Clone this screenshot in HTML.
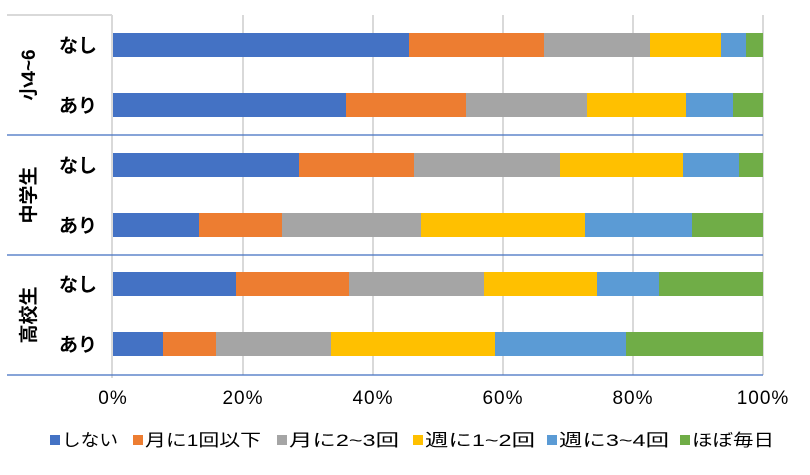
<!DOCTYPE html>
<html><head><meta charset="utf-8"><style>
body{margin:0;background:#fff}
svg text{font-family:"Liberation Sans","Noto Sans CJK JP",sans-serif;fill:#000}
</style></head><body>
<svg width="810" height="470" xmlns="http://www.w3.org/2000/svg">
<g stroke="#d9d9d9" stroke-width="2">
<line x1="243" y1="15" x2="243" y2="375"/><line x1="373" y1="15" x2="373" y2="375"/>
<line x1="503" y1="15" x2="503" y2="375"/><line x1="633" y1="15" x2="633" y2="375"/>
<line x1="763" y1="15" x2="763" y2="375"/>
<line x1="112" y1="15" x2="112" y2="378"/>
<line x1="7" y1="15" x2="112" y2="15"/>
</g>
<g stroke="#4472c4" stroke-width="1.5" opacity="0.85">
<line x1="7" y1="135" x2="763" y2="135"/><line x1="7" y1="255" x2="763" y2="255"/><line x1="7" y1="375" x2="763" y2="375"/>
</g>
<g>
<rect x="113" y="33" width="296" height="24" fill="#4472c4"/><rect x="409" y="33" width="135" height="24" fill="#ed7d31"/><rect x="544" y="33" width="106" height="24" fill="#a5a5a5"/><rect x="650" y="33" width="71" height="24" fill="#ffc000"/><rect x="721" y="33" width="25" height="24" fill="#5b9bd5"/><rect x="746" y="33" width="17" height="24" fill="#70ad47"/>
<rect x="113" y="93" width="233" height="24" fill="#4472c4"/><rect x="346" y="93" width="120" height="24" fill="#ed7d31"/><rect x="466" y="93" width="121" height="24" fill="#a5a5a5"/><rect x="587" y="93" width="99" height="24" fill="#ffc000"/><rect x="686" y="93" width="47" height="24" fill="#5b9bd5"/><rect x="733" y="93" width="30" height="24" fill="#70ad47"/>
<rect x="113" y="153" width="186" height="24" fill="#4472c4"/><rect x="299" y="153" width="115" height="24" fill="#ed7d31"/><rect x="414" y="153" width="146" height="24" fill="#a5a5a5"/><rect x="560" y="153" width="123" height="24" fill="#ffc000"/><rect x="683" y="153" width="56" height="24" fill="#5b9bd5"/><rect x="739" y="153" width="24" height="24" fill="#70ad47"/>
<rect x="113" y="213" width="86" height="24" fill="#4472c4"/><rect x="199" y="213" width="83" height="24" fill="#ed7d31"/><rect x="282" y="213" width="139" height="24" fill="#a5a5a5"/><rect x="421" y="213" width="164" height="24" fill="#ffc000"/><rect x="585" y="213" width="107" height="24" fill="#5b9bd5"/><rect x="692" y="213" width="71" height="24" fill="#70ad47"/>
<rect x="113" y="272" width="123" height="24" fill="#4472c4"/><rect x="236" y="272" width="113" height="24" fill="#ed7d31"/><rect x="349" y="272" width="135" height="24" fill="#a5a5a5"/><rect x="484" y="272" width="113" height="24" fill="#ffc000"/><rect x="597" y="272" width="62" height="24" fill="#5b9bd5"/><rect x="659" y="272" width="104" height="24" fill="#70ad47"/>
<rect x="113" y="332" width="50" height="24" fill="#4472c4"/><rect x="163" y="332" width="53" height="24" fill="#ed7d31"/><rect x="216" y="332" width="115" height="24" fill="#a5a5a5"/><rect x="331" y="332" width="164" height="24" fill="#ffc000"/><rect x="495" y="332" width="131" height="24" fill="#5b9bd5"/><rect x="626" y="332" width="137" height="24" fill="#70ad47"/>
</g>
<g font-size="19" font-weight="bold">
<text x="78" y="52" text-anchor="middle">なし</text><text x="78" y="112" text-anchor="middle">あり</text>
<text x="78" y="172" text-anchor="middle">なし</text><text x="78" y="232" text-anchor="middle">あり</text>
<text x="78" y="291" text-anchor="middle">なし</text><text x="78" y="351" text-anchor="middle">あり</text>
<text transform="translate(35,75) rotate(-90)" text-anchor="middle">小4~6</text>
<text transform="translate(35,195) rotate(-90)" text-anchor="middle">中学生</text>
<text transform="translate(35,315) rotate(-90)" text-anchor="middle">高校生</text>
</g>
<g font-size="19" text-anchor="middle" letter-spacing="1">
<text x="113" y="404">0%</text><text x="243" y="404">20%</text><text x="373" y="404">40%</text>
<text x="503" y="404">60%</text><text x="633" y="404">80%</text><text x="763" y="404">100%</text>
</g>
<g font-size="17">
<rect x="50" y="435" width="10" height="10" fill="#4472c4"/><text x="62" y="446" textLength="56" lengthAdjust="spacingAndGlyphs">しない</text>
<rect x="133" y="435" width="10" height="10" fill="#ed7d31"/><text x="145" y="446" textLength="116" lengthAdjust="spacingAndGlyphs">月に1回以下</text>
<rect x="277" y="435" width="10" height="10" fill="#a5a5a5"/><text x="289" y="446" textLength="110" lengthAdjust="spacingAndGlyphs">月に2~3回</text>
<rect x="413" y="435" width="10" height="10" fill="#ffc000"/><text x="425" y="446" textLength="110" lengthAdjust="spacingAndGlyphs">週に1~2回</text>
<rect x="547" y="435" width="10" height="10" fill="#5b9bd5"/><text x="559" y="446" textLength="110" lengthAdjust="spacingAndGlyphs">週に3~4回</text>
<rect x="680" y="435" width="10" height="10" fill="#70ad47"/><text x="692" y="446" textLength="82" lengthAdjust="spacingAndGlyphs">ほぼ毎日</text>
</g>
</svg>
</body></html>
